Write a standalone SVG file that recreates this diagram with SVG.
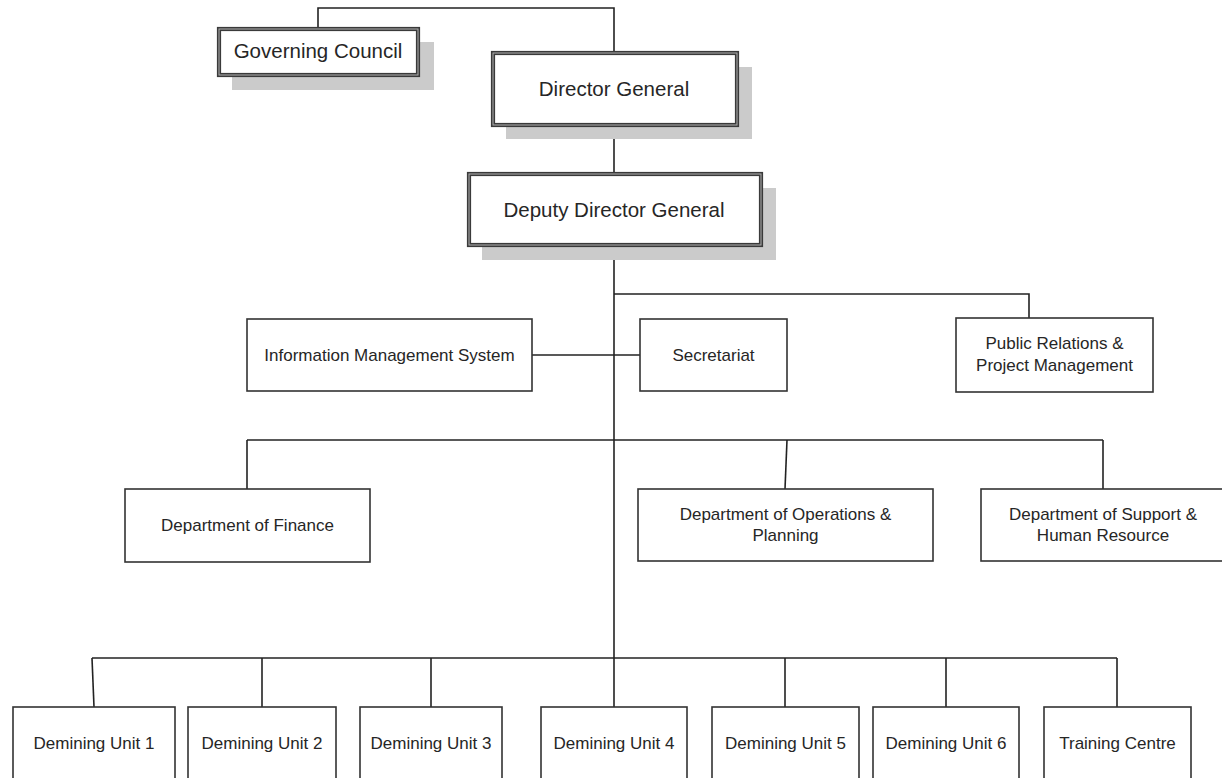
<svg xmlns="http://www.w3.org/2000/svg" width="1222" height="778" viewBox="0 0 1222 778">
<style>
.bg{fill:#ffffff}
.box{fill:#ffffff;stroke:#333333;stroke-width:1.6}
.dbl{fill:#ffffff;stroke:#3a3a3a;stroke-width:4.2}
.dbl-in{fill:none;stroke:#b0b0b0;stroke-width:1}
.shadow{fill:#cbcbcb}
.conn{fill:none;stroke:#222222;stroke-width:1.6}
.t1{font-family:"Liberation Sans",Arial,sans-serif;font-size:20.5px;fill:#262626;text-anchor:middle}
.t2{font-family:"Liberation Sans",Arial,sans-serif;font-size:17px;fill:#262626;text-anchor:middle}
</style>
<rect class="bg" x="0" y="0" width="1222" height="778"/>
<g id="connectors">
<polyline class="conn" points="318,28 318,8 614,8 614,53"/>
<line class="conn" x1="614" y1="125" x2="614" y2="173"/>
<line class="conn" x1="614" y1="245" x2="614" y2="707"/>
<polyline class="conn" points="614,294 1029,294 1029,318"/>
<line class="conn" x1="532" y1="355" x2="640" y2="355"/>
<line class="conn" x1="247" y1="440" x2="1103" y2="440"/>
<line class="conn" x1="247" y1="440" x2="247" y2="489"/>
<line class="conn" x1="787" y1="440" x2="785" y2="489"/>
<line class="conn" x1="1103" y1="440" x2="1103" y2="489"/>
<line class="conn" x1="92" y1="658" x2="1117" y2="658"/>
<line class="conn" x1="92" y1="658" x2="94" y2="707"/>
<line class="conn" x1="262" y1="658" x2="262" y2="707"/>
<line class="conn" x1="431" y1="658" x2="431" y2="707"/>
<line class="conn" x1="785" y1="658" x2="785" y2="707"/>
<line class="conn" x1="946" y1="658" x2="946" y2="707"/>
<line class="conn" x1="1117" y1="658" x2="1117" y2="707"/>
</g>
<g id="governing-council">
<rect class="shadow" x="232" y="42" width="202" height="48"/>
<rect class="dbl" x="219" y="29" width="199" height="46"/>
<rect class="dbl-in" x="219" y="29" width="199" height="46"/>
<text class="t1" x="318" y="58">Governing Council</text>
</g>
<g id="director-general">
<rect class="shadow" x="506" y="67" width="246" height="72"/>
<rect class="dbl" x="493" y="53" width="244" height="72"/>
<rect class="dbl-in" x="493" y="53" width="244" height="72"/>
<text class="t1" x="614" y="96">Director General</text>
</g>
<g id="deputy-director-general">
<rect class="shadow" x="482" y="188" width="294" height="72"/>
<rect class="dbl" x="469" y="174" width="292" height="71"/>
<rect class="dbl-in" x="469" y="174" width="292" height="71"/>
<text class="t1" x="614" y="217">Deputy Director General</text>
</g>
<g id="information-management-system">
<rect class="box" x="247" y="319" width="285" height="72"/>
<text class="t2" x="389.5" y="361">Information Management System</text>
</g>
<g id="secretariat">
<rect class="box" x="640" y="319" width="147" height="72"/>
<text class="t2" x="713.5" y="361">Secretariat</text>
</g>
<g id="public-relations">
<rect class="box" x="956" y="318" width="197" height="74"/>
<text class="t2" x="1054.5" y="349">Public Relations &amp;</text>
<text class="t2" x="1054.5" y="371">Project Management</text>
</g>
<g id="dept-finance">
<rect class="box" x="125" y="489" width="245" height="73"/>
<text class="t2" x="247.5" y="531">Department of Finance</text>
</g>
<g id="dept-operations">
<rect class="box" x="638" y="489" width="295" height="72"/>
<text class="t2" x="785.5" y="520">Department of Operations &amp;</text>
<text class="t2" x="785.5" y="541">Planning</text>
</g>
<g id="dept-support">
<rect class="box" x="981" y="489" width="250" height="72"/>
<text class="t2" x="1103" y="520">Department of Support &amp;</text>
<text class="t2" x="1103" y="541">Human Resource</text>
</g>
<g id="demining-unit-1">
<rect class="box" x="13" y="707" width="162" height="90"/>
<text class="t2" x="94" y="749">Demining Unit 1</text>
</g>
<g id="demining-unit-2">
<rect class="box" x="188" y="707" width="148" height="90"/>
<text class="t2" x="262" y="749">Demining Unit 2</text>
</g>
<g id="demining-unit-3">
<rect class="box" x="360" y="707" width="142" height="90"/>
<text class="t2" x="431" y="749">Demining Unit 3</text>
</g>
<g id="demining-unit-4">
<rect class="box" x="541" y="707" width="146" height="90"/>
<text class="t2" x="614" y="749">Demining Unit 4</text>
</g>
<g id="demining-unit-5">
<rect class="box" x="712" y="707" width="147" height="90"/>
<text class="t2" x="785.5" y="749">Demining Unit 5</text>
</g>
<g id="demining-unit-6">
<rect class="box" x="873" y="707" width="146" height="90"/>
<text class="t2" x="946" y="749">Demining Unit 6</text>
</g>
<g id="training-centre">
<rect class="box" x="1044" y="707" width="147" height="90"/>
<text class="t2" x="1117.5" y="749">Training Centre</text>
</g>
</svg>
